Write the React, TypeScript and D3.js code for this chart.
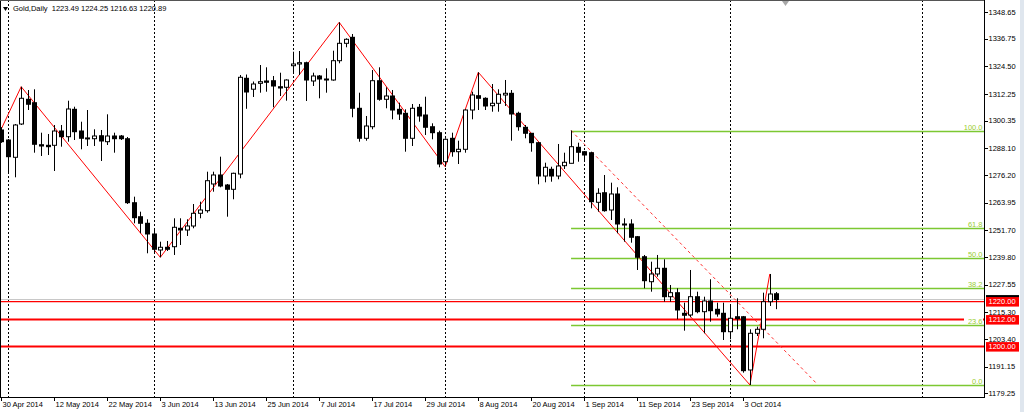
import React from "react";
import * as d3 from "d3";

// ---- data (Gold, Daily) ----
const openP = [1296.23,1291.78,1284.10,1298.89,1309.87,1308.36,1289.70,1289.43,1289.43,1295.78,1293.25,1305.42,1295.78,1292.50,1292.36,1293.69,1291.03,1293.56,1293.56,1292.36,1263.93,1257.71,1254.78,1250.03,1242.92,1244.12,1244.38,1252.56,1251.80,1253.58,1259.22,1260.38,1272.24,1276.24,1271.79,1269.88,1276.68,1319.20,1314.35,1316.97,1318.00,1318.13,1315.46,1315.20,1324.79,1325.55,1326.13,1318.00,1320.22,1318.44,1318.44,1327.01,1334.74,1337.41,1305.87,1292.54,1297.69,1318.13,1309.87,1311.33,1305.42,1303.65,1292.54,1306.31,1302.89,1297.69,1295.03,1282.14,1292.54,1286.59,1287.65,1305.11,1311.47,1310.31,1307.02,1308.09,1311.78,1312.53,1303.65,1297.43,1294.76,1290.59,1275.79,1278.77,1275.79,1280.37,1281.43,1288.54,1286.59,1286.14,1264.11,1268.37,1260.69,1267.80,1254.47,1254.47,1248.83,1239.94,1228.83,1232.26,1234.79,1222.17,1223.95,1214.80,1214.04,1222.17,1215.51,1220.26,1216.57,1214.80,1206.62,1213.28,1213.28,1189.61,1205.91,1207.69,1219.95,1223.49];
const highP = [1297.50,1292.23,1298.89,1315.46,1313.99,1314.31,1295.03,1294.45,1298.45,1298.45,1309.24,1306.58,1299.91,1305.11,1296.54,1296.23,1303.20,1295.03,1294.01,1293.12,1266.60,1259.93,1256.56,1252.11,1246.60,1246.92,1257.00,1257.00,1256.56,1263.35,1264.38,1277.70,1277.70,1284.37,1272.24,1277.26,1320.66,1320.88,1317.77,1325.10,1324.08,1320.22,1321.68,1318.75,1331.01,1331.32,1326.57,1321.68,1320.66,1323.64,1331.46,1344.07,1336.97,1338.88,1312.80,1302.45,1322.88,1324.08,1315.20,1314.00,1308.36,1305.42,1307.78,1307.78,1311.02,1299.20,1295.92,1292.54,1295.03,1291.47,1305.42,1313.24,1321.86,1310.75,1316.66,1314.31,1318.44,1313.99,1304.36,1298.45,1294.89,1290.90,1281.70,1279.92,1290.01,1286.14,1296.00,1290.59,1286.90,1286.59,1270.33,1276.24,1272.82,1270.77,1257.00,1256.56,1249.14,1240.70,1237.72,1240.70,1238.79,1227.37,1225.90,1219.51,1234.03,1224.39,1222.17,1229.90,1219.51,1219.51,1218.48,1221.46,1213.60,1207.69,1208.84,1223.95,1232.26,1224.25];
const lowP = [1290.50,1277.12,1275.21,1298.45,1305.11,1286.14,1284.68,1285.12,1278.01,1288.81,1291.03,1291.78,1287.65,1289.12,1289.12,1282.46,1289.56,1286.14,1291.78,1263.35,1254.78,1250.34,1241.45,1241.45,1239.67,1242.47,1240.70,1245.14,1249.14,1252.56,1257.00,1259.49,1268.82,1270.77,1257.71,1265.44,1274.77,1305.65,1310.89,1312.80,1313.24,1306.31,1311.33,1309.24,1321.42,1320.66,1309.11,1315.77,1310.31,1312.80,1318.13,1325.86,1332.97,1301.87,1291.03,1291.47,1296.54,1309.24,1305.87,1300.98,1300.67,1286.59,1289.12,1299.91,1294.01,1292.10,1279.66,1279.92,1284.37,1281.12,1286.14,1300.98,1305.11,1305.11,1304.36,1304.36,1306.89,1291.47,1295.92,1292.54,1286.59,1272.10,1272.99,1273.26,1274.33,1278.90,1281.43,1282.14,1282.14,1261.44,1259.93,1259.93,1256.24,1250.34,1246.60,1246.16,1234.03,1225.90,1224.39,1231.06,1219.95,1219.95,1212.13,1207.07,1213.02,1214.80,1205.91,1211.06,1213.28,1202.93,1203.25,1207.69,1188.41,1182.95,1204.71,1203.69,1218.04,1216.63];
const closeP = [1291.03,1284.37,1298.45,1310.31,1307.65,1289.87,1289.12,1288.81,1295.78,1293.25,1305.56,1295.47,1292.54,1292.70,1293.56,1291.34,1293.56,1292.36,1292.36,1263.93,1257.27,1254.78,1250.03,1243.23,1244.12,1243.23,1253.00,1251.80,1253.58,1259.22,1260.69,1273.70,1276.24,1271.35,1269.88,1276.99,1319.64,1313.11,1316.66,1317.68,1317.42,1315.77,1314.89,1318.44,1325.55,1326.13,1318.44,1320.22,1318.88,1318.88,1327.01,1334.74,1336.52,1305.87,1292.54,1298.00,1318.13,1309.87,1311.33,1305.11,1303.34,1292.54,1305.87,1302.45,1297.43,1295.03,1281.12,1292.10,1286.59,1287.65,1305.11,1311.78,1310.31,1306.89,1308.09,1312.09,1312.53,1303.34,1297.69,1294.76,1290.59,1275.79,1279.66,1275.79,1280.23,1281.88,1288.81,1286.32,1285.12,1264.37,1268.11,1260.38,1267.80,1254.47,1254.02,1248.56,1239.67,1229.28,1232.26,1234.79,1222.17,1223.95,1216.26,1213.91,1222.17,1215.51,1220.26,1215.95,1214.49,1206.62,1212.58,1212.40,1189.30,1205.91,1207.69,1219.95,1223.37,1220.89];

const dateLabels = ["30 Apr 2014","12 May 2014","22 May 2014","3 Jun 2014","13 Jun 2014","25 Jun 2014","7 Jul 2014","17 Jul 2014","29 Jul 2014","8 Aug 2014","20 Aug 2014","1 Sep 2014","11 Sep 2014","23 Sep 2014","3 Oct 2014"];
const dateBars = [0,8,16,24,32,40,48,56,64,72,80,88,96,104,112];
const separatorBars = [1,23,44,67,88,110,139];
const priceTicks = ["1348.65","1336.75","1324.50","1312.25","1300.35","1288.10","1276.20","1263.95","1251.70","1239.80","1227.55","1215.30","1203.40","1191.15","1179.25"];

const zigzagBars = [-3,3,24,51,67,72,113,116];
const zigzagPrices = [1277.9,1315.46,1239.67,1344.07,1279.92,1321.86,1182.95,1232.26];
const trendBars = [86,123];
const trendPrices = [1296.0,1183.8];

const hLevels = [1220.0,1212.0,1200.0];
const hLevelLabels = ["1220.00","1212.00","1200.00"];
const fibHigh = 1296.0;
const fibLow = 1182.95;
const fibStartBar = 86;
const fibRatios = [1.0,0.618,0.5,0.382,0.236,0.0];
const fibLabels = ["100.0","61.8","50.0","38.2","23.6","0.0"];
const lastPrice = 1220.89;
const title = "Gold,Daily  1223.49 1224.25 1216.63 1220.89";

const W = 1024, H = 412;
const PL = 0, PR = 984, PT = 0, PB = 397;
const FONT = "'Liberation Sans', Arial, sans-serif";

export default function App() {
  const x = d3.scaleLinear().domain([0, 112]).range([1.3, 743.3]);
  const y = d3.scaleLinear().domain([1179.25, 1348.65]).range([393.3, 12]);
  const cx = (i: number) => Math.round(x(i));

  const zz = d3.line<number>().x((_, k) => x(zigzagBars[k])).y((p) => y(p));
  const tl = d3.line<number>().x((_, k) => x(trendBars[k])).y((p) => y(p));

  return (
    <svg width={W} height={H} style={{ position: "fixed", left: 0, top: 0, display: "block", background: "#fff" }}
      fontFamily={FONT}>
      <defs>
        <clipPath id="plot"><rect x={PL} y={PT} width={PR - PL} height={PB - PT} /></clipPath>
      </defs>
      <rect x={0} y={0} width={W} height={H} fill="#fff" />
      {/* scrollbar strip */}
      <rect x={1020} y={0} width={4} height={H} fill="#dfe6ee" />

      <g clipPath="url(#plot)">
        {/* period separators */}
        {separatorBars.map((b) => (
          <line key={"s" + b} x1={cx(b) + 0.5} x2={cx(b) + 0.5} y1={PT} y2={PB} stroke="#000" strokeDasharray="2,2" strokeWidth={1} />
        ))}
        {/* bid line */}
        <line x1={PL} x2={PR} y1={Math.round(y(lastPrice)) - 0.5} y2={Math.round(y(lastPrice)) - 0.5} stroke="#c8c8c8" strokeWidth={1} />
        {/* horizontal red levels */}
        {hLevels.map((p, k) => (
          <line key={"h" + k} x1={PL} x2={PR} y1={y(p)} y2={y(p)} stroke="#ff0000" strokeWidth={k === 0 ? 1.3 : 2} />
        ))}
        {/* fibo levels */}
        {fibRatios.map((r, k) => {
          const p = fibLow + (fibHigh - fibLow) * r;
          const yy = Math.round(y(p)) + 0.5;
          return (
            <g key={"f" + k}>
              <rect x={PR - 20} y={yy - 9} width={19} height={8} fill="#fff" />
              <line x1={x(fibStartBar)} x2={PR} y1={yy} y2={yy} stroke="#7cc832" strokeWidth={1.6} />
              <text x={PR - 1.5} y={yy - 2} textAnchor="end" fontSize={7.5} fill="#9acd32">{fibLabels[k]}</text>
            </g>
          );
        })}
        {/* zigzag */}
        <path d={zz(zigzagPrices) || ""} fill="none" stroke="#ff0000" strokeWidth={1} />
        {/* trend line */}
        <path d={tl(trendPrices) || ""} fill="none" stroke="#ff3030" strokeWidth={1} strokeDasharray="3,3" />
        {/* candles */}
        {openP.map((o, i) => {
          const c = closeP[i];
          const X = cx(i);
          const yo = y(o), yc = y(c);
          const top = Math.min(yo, yc), bot = Math.max(yo, yc);
          const bull = c >= o;
          return (
            <g key={"c" + i}>
              <line x1={X + 0.5} x2={X + 0.5} y1={y(highP[i])} y2={y(lowP[i])} stroke="#000" strokeWidth={1} />
              {bull ? (
                <rect x={X - 1.5} y={top} width={4} height={Math.max(bot - top, 1)} fill="#fff" stroke="#000" strokeWidth={1} />
              ) : (
                <rect x={X - 2} y={top - 0.5} width={5} height={Math.max(bot - top, 1) + 1} fill="#000" />
              )}
            </g>
          );
        })}
      </g>

      {/* frame */}
      <line x1={0.5} x2={0.5} y1={0} y2={PB} stroke="#000" />
      <line x1={0} x2={PR} y1={0.5} y2={0.5} stroke="#555" />
      <line x1={PR + 0.5} x2={PR + 0.5} y1={0} y2={PB + 0.5} stroke="#000" />
      <line x1={0} x2={PR + 1} y1={PB + 0.5} y2={PB + 0.5} stroke="#000" />

      {/* shift marker */}
      <polygon points="782,1 789,1 785.5,6" fill="#a8a8a8" />

      {/* title */}
      <polygon points="3,7 8,7 5.5,11" fill="#000" />
      <text x={13} y={11} fontSize={7.5} fill="#000" style={{ whiteSpace: "pre" }}>{title}</text>

      {/* right axis */}
      {priceTicks.map((t) => {
        const yy = y(+t);
        return (
          <g key={"p" + t}>
            <line x1={PR + 1} x2={PR + 4} y1={Math.round(yy) + 0.5} y2={Math.round(yy) + 0.5} stroke="#000" />
            <text x={988.5} y={yy + 2.7} fontSize={7.5} fill="#000">{t}</text>
          </g>
        );
      })}
      {/* current price box (mostly hidden under the 1220.00 level label) */}
      <rect x={986} y={y(lastPrice) - 4.5} width={33} height={9} fill="#000" />
      {hLevels.map((p, k) => (
        <g key={"hb" + k}>
          <rect x={986} y={y(p) - 4.5} width={33} height={9.5} fill="#ff0000" />
          <text x={988.5} y={y(p) + 2.9} fontSize={7.5} fill="#fff">{hLevelLabels[k]}</text>
        </g>
      ))}

      {/* bottom axis */}
      {dateBars.map((b, k) => (
        <g key={"d" + b}>
          <line x1={cx(b) + 0.5} x2={cx(b) + 0.5} y1={PB} y2={PB + 4} stroke="#000" />
          <text x={cx(b) + 1.5} y={407} fontSize={7.5} fill="#000">{dateLabels[k]}</text>
        </g>
      ))}
    </svg>
  );
}
